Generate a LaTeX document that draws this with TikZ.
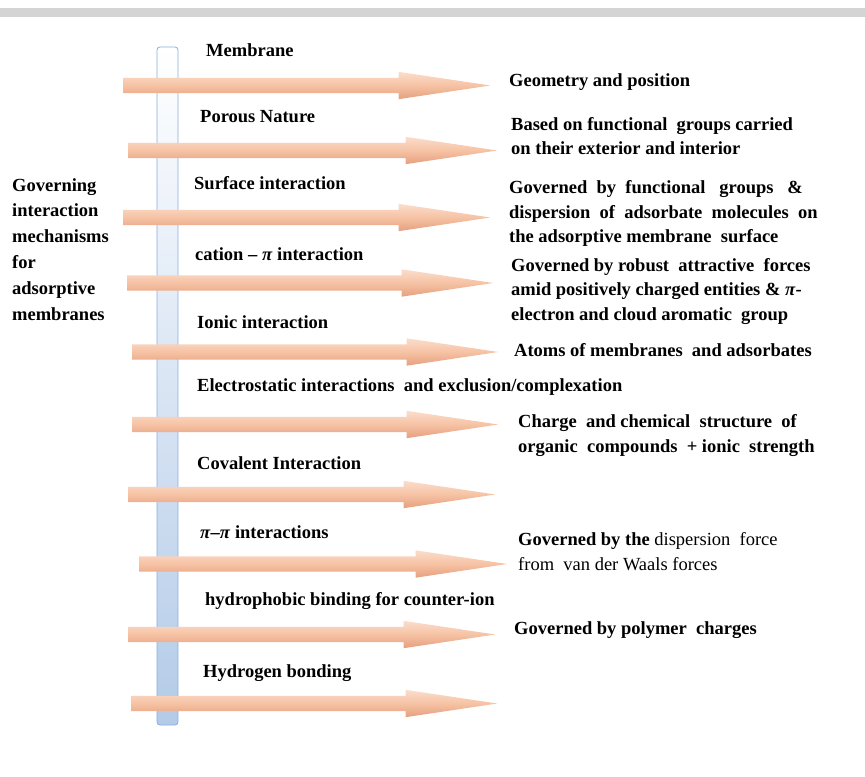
\documentclass[tikz,border=0pt]{standalone}
\usepackage{fontspec}
\setmainfont{Liberation Serif}
\usetikzlibrary{shapes.arrows}
\definecolor{peachtop}{HTML}{FBDDCC}
\definecolor{peachmid}{HTML}{F6C2A4}
\definecolor{peachbot}{HTML}{E5A07E}
\definecolor{barblue}{HTML}{B3CBE8}
\definecolor{barline}{HTML}{86AEE0}
\definecolor{rulegray}{HTML}{D4D4D4}
\tikzset{
  peacharrow/.style={single arrow, anchor=tail, inner xsep=0pt, inner ysep=7.5pt,
    single arrow head extend=6pt, single arrow tip angle=17,
    top color=peachtop, bottom color=peachbot, middle color=peachmid},
  membranebar/.style={draw=barline, line width=0.8pt, rounded corners=3pt, top color=white, bottom color=barblue,
    minimum width=21pt, minimum height=678pt, inner sep=0pt},
  lbl/.style={font=\fontsize{18.5}{24.5}\selectfont\bfseries, inner sep=0pt, anchor=base west, align=left},
}
\begin{document}
\begin{tikzpicture}[x=1pt, y=-1pt]
\useasboundingbox (0,0) rectangle (865,778);
\fill[rulegray] (0,8) rectangle (865,17);
\fill[rulegray] (0,776.5) rectangle (865,778);
\node[membranebar] (bar) at (167.5,386) {};
% arrows: left end / tip / y
\foreach \l/\t/\y [count=\i, evaluate=\l as \len using \t-\l] in
  {123/490/85.5, 128/497/150.5, 123/490/217.5, 127/493/283, 132/498/352,
   132/498/424.5, 128/495/494.5, 139/507/564, 128/495/634.5, 131/497/703.5}
  \node[peacharrow, minimum height=\len pt] (arr\i) at (\l,\y) {};
% mechanisms
\node[lbl] (mem) at (206,57) {Membrane};
\node[lbl] (por) at (200,123) {Porous Nature};
\node[lbl] (surf) at (194,190) {Surface interaction};
\node[lbl] (cat) at (195,261) {cation -- \textit{π} interaction};
\node[lbl] (ion) at (197,328) {Ionic interaction};
\node[lbl] (elec) at (197,391) {Electrostatic interactions \ and exclusion/complexation};
\node[lbl] (cov) at (197,469) {Covalent Interaction};
\node[lbl] (pipi) at (200,538) {\textit{π}--\textit{π} interactions};
\node[lbl] (hyd) at (205,605) {hydrophobic binding for counter-ion};
\node[lbl] (hbond) at (203,677) {Hydrogen bonding};
% results (multi-line nodes sit on their last line)
\node[lbl] (geo) at (509,87) {Geometry and position};
\node[lbl] (based) at (511,155) {Based on functional \ groups carried\\on their exterior and interior};
\node[lbl] (govfg) at (509,243) {Governed \ by \ functional \ \ groups \ \ \&\\dispersion \ of \ adsorbate \ molecules \ on\\the adsorptive membrane \ surface};
\node[lbl] (govrob) at (511,320) {Governed by robust \ attractive \ forces\\amid positively charged entities \& \textit{π}-\\electron and cloud aromatic \ group};
\node[lbl] (atoms) at (514,356) {Atoms of membranes \ and adsorbates};
\node[lbl] (charge) at (518,452) {Charge \ and chemical \ structure \ of\\organic \ compounds \ + ionic \ strength};
\node[lbl] (disp) at (518,570) {Governed by the \mdseries dispersion \ force\\\mdseries from \ van der Waals forces};
\node[lbl] (poly) at (514,634) {Governed by polymer \ charges};
\node[lbl, font=\fontsize{18.5}{25.8}\selectfont\bfseries] (gov) at (12,320)
  {Governing\\interaction\\mechanisms\\for\\adsorptive\\membranes};
\end{tikzpicture}
\end{document}
